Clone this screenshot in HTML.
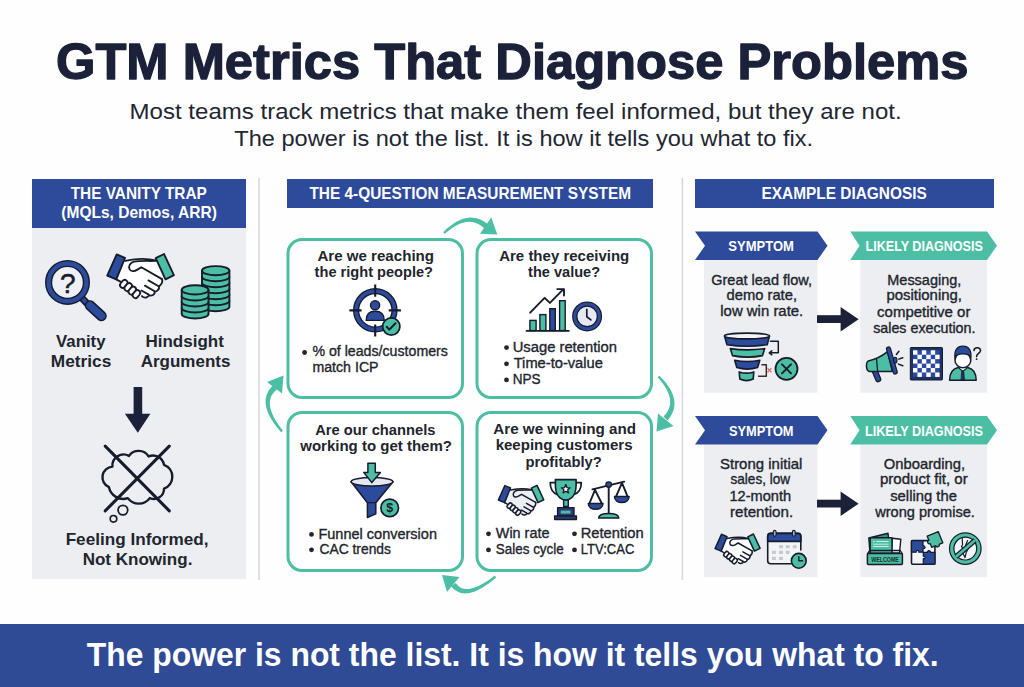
<!DOCTYPE html>
<html><head><meta charset="utf-8"><style>
html,body{margin:0;padding:0;background:#fff;}
svg{display:block;font-family:"Liberation Sans",sans-serif;}
</style></head><body>
<svg width="1024" height="687" viewBox="0 0 1024 687">
<rect width="1024" height="687" fill="#fefefe"/>
<rect x="32" y="228" width="214" height="351" fill="#eceef2" />
<rect x="32" y="179" width="214" height="49" fill="#2e4a9a" />
<rect x="258.2" y="178" width="1.6" height="402" fill="#d9d9dc" />
<rect x="681.6" y="178" width="1.6" height="402" fill="#d9d9dc" />
<rect x="287" y="179" width="366" height="29" fill="#2e4a9a" />
<rect x="695" y="179" width="299" height="29" fill="#2e4a9a" />
<rect x="288.0" y="239.5" width="174.5" height="158" rx="14" fill="#fff" stroke="#4cbea3" stroke-width="3"/>
<rect x="477.0" y="239.5" width="174.5" height="158" rx="14" fill="#fff" stroke="#4cbea3" stroke-width="3"/>
<rect x="288.0" y="412.5" width="174.5" height="158" rx="14" fill="#fff" stroke="#4cbea3" stroke-width="3"/>
<rect x="477.0" y="412.5" width="174.5" height="158" rx="14" fill="#fff" stroke="#4cbea3" stroke-width="3"/>
<rect x="704" y="260" width="113.5" height="132.7" fill="#eceef2" />
<rect x="860.3" y="260" width="126.7" height="132.7" fill="#eceef2" />
<polygon points="695,231.5 817.5,231.5 827.5,245.75 817.5,260 695,260 705,245.75" fill="#2e4a9a"/>
<polygon points="850.3,231.5 987,231.5 997,245.75 987,260 850.3,260 859.5,245.75" fill="#4cbea3"/>
<rect x="817" y="315.2" width="24.5" height="7.8" fill="#1a2139" />
<polygon points="840.6,306.9 858.6,319.2 840.6,331.5" fill="#1a2139"/>
<rect x="704" y="444.5" width="113.5" height="132.7" fill="#eceef2" />
<rect x="860.3" y="444.5" width="126.7" height="132.7" fill="#eceef2" />
<polygon points="695,416.0 817.5,416.0 827.5,430.25 817.5,444.5 695,444.5 705,430.25" fill="#2e4a9a"/>
<polygon points="850.3,416.0 987,416.0 997,430.25 987,444.5 850.3,444.5 859.5,430.25" fill="#4cbea3"/>
<rect x="817" y="499.7" width="24.5" height="7.8" fill="#1a2139" />
<polygon points="840.6,491.4 858.6,503.7 840.6,516.0" fill="#1a2139"/>
<rect x="0" y="624" width="1024" height="63" fill="#2f4b95" />
<line x1="81" y1="297" x2="88" y2="304.5" stroke="#161c2c" stroke-width="7" stroke-linecap="round"/>
<line x1="81" y1="297" x2="88" y2="304.5" stroke="#2d4b9c" stroke-width="4"/>
<line x1="90" y1="305.5" x2="101.5" y2="316" stroke="#161c2c" stroke-width="10.5" stroke-linecap="round"/>
<line x1="90" y1="305.5" x2="101.5" y2="316" stroke="#2d4b9c" stroke-width="7.5" stroke-linecap="round"/>
<circle cx="67.5" cy="282.4" r="18.9" fill="#eef0f5" stroke="#161c2c" stroke-width="7.2"/>
<circle cx="67.5" cy="282.4" r="18.9" fill="none" stroke="#2d4b9c" stroke-width="4.4"/>
<text x="67.8" y="292.8" font-size="28" text-anchor="middle" fill="#161c2c" stroke="#161c2c" stroke-width="0.5">?</text>
<path d="M202.0,300.7 L202.0,306.7 A13.7,4.6 0 0 0 229.39999999999998,306.7 L229.39999999999998,300.7 Z" fill="#4cbea3" stroke="#161c2c" stroke-width="1.9" stroke-linejoin="round"/>
<path d="M202.0,294.7 L202.0,300.7 A13.7,4.6 0 0 0 229.39999999999998,300.7 L229.39999999999998,294.7 Z" fill="#4cbea3" stroke="#161c2c" stroke-width="1.9" stroke-linejoin="round"/>
<path d="M202.0,288.7 L202.0,294.7 A13.7,4.6 0 0 0 229.39999999999998,294.7 L229.39999999999998,288.7 Z" fill="#4cbea3" stroke="#161c2c" stroke-width="1.9" stroke-linejoin="round"/>
<path d="M202.0,282.7 L202.0,288.7 A13.7,4.6 0 0 0 229.39999999999998,288.7 L229.39999999999998,282.7 Z" fill="#4cbea3" stroke="#161c2c" stroke-width="1.9" stroke-linejoin="round"/>
<path d="M202.0,276.7 L202.0,282.7 A13.7,4.6 0 0 0 229.39999999999998,282.7 L229.39999999999998,276.7 Z" fill="#4cbea3" stroke="#161c2c" stroke-width="1.9" stroke-linejoin="round"/>
<path d="M202.0,270.7 L202.0,276.7 A13.7,4.6 0 0 0 229.39999999999998,276.7 L229.39999999999998,270.7 Z" fill="#4cbea3" stroke="#161c2c" stroke-width="1.9" stroke-linejoin="round"/>
<ellipse cx="215.7" cy="270.7" rx="13.7" ry="4.6" fill="#4cbea3" stroke="#161c2c" stroke-width="1.9"/>
<path d="M181.7,307.9 L181.7,313.9 A13.4,4.6 0 0 0 208.5,313.9 L208.5,307.9 Z" fill="#4cbea3" stroke="#161c2c" stroke-width="1.9" stroke-linejoin="round"/>
<path d="M181.7,301.9 L181.7,307.9 A13.4,4.6 0 0 0 208.5,307.9 L208.5,301.9 Z" fill="#4cbea3" stroke="#161c2c" stroke-width="1.9" stroke-linejoin="round"/>
<path d="M181.7,295.9 L181.7,301.9 A13.4,4.6 0 0 0 208.5,301.9 L208.5,295.9 Z" fill="#4cbea3" stroke="#161c2c" stroke-width="1.9" stroke-linejoin="round"/>
<path d="M181.7,289.9 L181.7,295.9 A13.4,4.6 0 0 0 208.5,295.9 L208.5,289.9 Z" fill="#4cbea3" stroke="#161c2c" stroke-width="1.9" stroke-linejoin="round"/>
<ellipse cx="195.1" cy="289.9" rx="13.4" ry="4.6" fill="#4cbea3" stroke="#161c2c" stroke-width="1.9"/>
<rect x="133.6" y="387" width="8.6" height="27.5" fill="#1a2139"/>
<polygon points="124.9,413.7 150.4,413.7 137.8,432.7" fill="#1a2139"/>
<path d="M108.9,487.1 A10.7,10.7 0 0 1 112.4,466.6 A11.2,11.2 0 0 1 129,455.9 A11.8,11.8 0 0 1 148.6,456.4 A11.2,11.2 0 0 1 164,464.9 A12.6,12.6 0 0 1 164,488.6 A10.1,10.1 0 0 1 149.8,498.1 A13.7,13.7 0 0 1 127.8,498.1 A14.5,14.5 0 0 1 108.9,487.1 Z" fill="#eceef2" stroke="#161c2c" stroke-width="2.4" stroke-linejoin="round"/>
<circle cx="122.9" cy="510.1" r="4.8" fill="none" stroke="#161c2c" stroke-width="1.8"/>
<circle cx="113.5" cy="518.8" r="3.3" fill="none" stroke="#161c2c" stroke-width="1.6"/>
<path d="M105.2,446.1 L169.3,510.9 M169.3,446.1 L105.2,510.9" stroke="#161c2c" stroke-width="3" stroke-linecap="round"/>
<g transform="translate(103.4,249.1) scale(1.0)"><path d="M21.6,11.7 C30,9.5 42,9 52.3,11.4 L59.5,29 C57,36 50,43 42,47 C36,49 30,47 26,44 L16,33 L13,29 Z" fill="#fff"/><path d="M21.6,11.7 C30,10 42,8.5 52.3,11.4" fill="none" stroke="#161c2c" stroke-width="1.85" stroke-linejoin="round" stroke-linecap="round"/><path d="M58.6,30 C60,34 57,36 55.5,37.4 C56.5,40 53,43 51.2,42.5 C52,45.5 48,47.5 45.5,46 C45,48.5 41,49.5 38.5,47" fill="#fff" stroke="#161c2c" stroke-width="1.85" stroke-linejoin="round" stroke-linecap="round"/><path d="M45,31.3 L55.6,37.4 M41.5,36.5 L51.2,42.2 M38,41.4 L45,45.3" fill="none" stroke="#161c2c" stroke-width="1.85" stroke-linejoin="round" stroke-linecap="round"/><path d="M52.3,11.8 C45,12 36,11.5 30.5,12.5 C27,13.5 24.5,17 26.2,20.3 C27.8,23 31.5,22 34,20.5 L37.9,18.2 L58.6,30" fill="#fff" stroke="#161c2c" stroke-width="1.85" stroke-linejoin="round" stroke-linecap="round"/><rect x="16.099999999999998" y="31.999999999999996" width="8.6" height="5.6" rx="2.8" transform="rotate(-50 20.4 34.8)" fill="#fff" stroke="#161c2c" stroke-width="1.85" stroke-linejoin="round" stroke-linecap="round"/><rect x="20.5" y="35.2" width="8.6" height="5.6" rx="2.8" transform="rotate(-50 24.8 38.0)" fill="#fff" stroke="#161c2c" stroke-width="1.85" stroke-linejoin="round" stroke-linecap="round"/><rect x="24.599999999999998" y="38.7" width="8.6" height="5.6" rx="2.8" transform="rotate(-50 28.9 41.5)" fill="#fff" stroke="#161c2c" stroke-width="1.85" stroke-linejoin="round" stroke-linecap="round"/><rect x="28.7" y="42.2" width="8.6" height="5.6" rx="2.8" transform="rotate(-50 33.0 45.0)" fill="#fff" stroke="#161c2c" stroke-width="1.85" stroke-linejoin="round" stroke-linecap="round"/><path d="M12.9,30.3 L17,32.5" fill="none" stroke="#161c2c" stroke-width="1.85" stroke-linejoin="round" stroke-linecap="round"/><polygon points="3.8,26.5 12.9,30.3 21.6,8.7 13.3,5.3" fill="#2d4b9c" stroke="#161c2c" stroke-width="1.85" stroke-linejoin="round" stroke-linecap="round"/><polygon points="52.3,9.1 60.6,4.9 70.5,26.1 62.1,30.3" fill="#4cbea3" stroke="#161c2c" stroke-width="1.85" stroke-linejoin="round" stroke-linecap="round"/></g>
<g transform="translate(495.8,482.0) scale(0.68)"><path d="M21.6,11.7 C30,9.5 42,9 52.3,11.4 L59.5,29 C57,36 50,43 42,47 C36,49 30,47 26,44 L16,33 L13,29 Z" fill="#eceef3"/><path d="M21.6,11.7 C30,10 42,8.5 52.3,11.4" fill="none" stroke="#161c2c" stroke-width="2.21" stroke-linejoin="round" stroke-linecap="round"/><path d="M58.6,30 C60,34 57,36 55.5,37.4 C56.5,40 53,43 51.2,42.5 C52,45.5 48,47.5 45.5,46 C45,48.5 41,49.5 38.5,47" fill="#eceef3" stroke="#161c2c" stroke-width="2.21" stroke-linejoin="round" stroke-linecap="round"/><path d="M45,31.3 L55.6,37.4 M41.5,36.5 L51.2,42.2 M38,41.4 L45,45.3" fill="none" stroke="#161c2c" stroke-width="2.21" stroke-linejoin="round" stroke-linecap="round"/><path d="M52.3,11.8 C45,12 36,11.5 30.5,12.5 C27,13.5 24.5,17 26.2,20.3 C27.8,23 31.5,22 34,20.5 L37.9,18.2 L58.6,30" fill="#eceef3" stroke="#161c2c" stroke-width="2.21" stroke-linejoin="round" stroke-linecap="round"/><rect x="16.099999999999998" y="31.999999999999996" width="8.6" height="5.6" rx="2.8" transform="rotate(-50 20.4 34.8)" fill="#eceef3" stroke="#161c2c" stroke-width="2.21" stroke-linejoin="round" stroke-linecap="round"/><rect x="20.5" y="35.2" width="8.6" height="5.6" rx="2.8" transform="rotate(-50 24.8 38.0)" fill="#eceef3" stroke="#161c2c" stroke-width="2.21" stroke-linejoin="round" stroke-linecap="round"/><rect x="24.599999999999998" y="38.7" width="8.6" height="5.6" rx="2.8" transform="rotate(-50 28.9 41.5)" fill="#eceef3" stroke="#161c2c" stroke-width="2.21" stroke-linejoin="round" stroke-linecap="round"/><rect x="28.7" y="42.2" width="8.6" height="5.6" rx="2.8" transform="rotate(-50 33.0 45.0)" fill="#eceef3" stroke="#161c2c" stroke-width="2.21" stroke-linejoin="round" stroke-linecap="round"/><path d="M12.9,30.3 L17,32.5" fill="none" stroke="#161c2c" stroke-width="2.21" stroke-linejoin="round" stroke-linecap="round"/><polygon points="3.8,26.5 12.9,30.3 21.6,8.7 13.3,5.3" fill="#2d4b9c" stroke="#161c2c" stroke-width="2.21" stroke-linejoin="round" stroke-linecap="round"/><polygon points="52.3,9.1 60.6,4.9 70.5,26.1 62.1,30.3" fill="#4cbea3" stroke="#161c2c" stroke-width="2.21" stroke-linejoin="round" stroke-linecap="round"/></g>
<g transform="translate(712.5,530.7) scale(0.675)"><path d="M21.6,11.7 C30,9.5 42,9 52.3,11.4 L59.5,29 C57,36 50,43 42,47 C36,49 30,47 26,44 L16,33 L13,29 Z" fill="#fff"/><path d="M21.6,11.7 C30,10 42,8.5 52.3,11.4" fill="none" stroke="#161c2c" stroke-width="2.22" stroke-linejoin="round" stroke-linecap="round"/><path d="M58.6,30 C60,34 57,36 55.5,37.4 C56.5,40 53,43 51.2,42.5 C52,45.5 48,47.5 45.5,46 C45,48.5 41,49.5 38.5,47" fill="#fff" stroke="#161c2c" stroke-width="2.22" stroke-linejoin="round" stroke-linecap="round"/><path d="M45,31.3 L55.6,37.4 M41.5,36.5 L51.2,42.2 M38,41.4 L45,45.3" fill="none" stroke="#161c2c" stroke-width="2.22" stroke-linejoin="round" stroke-linecap="round"/><path d="M52.3,11.8 C45,12 36,11.5 30.5,12.5 C27,13.5 24.5,17 26.2,20.3 C27.8,23 31.5,22 34,20.5 L37.9,18.2 L58.6,30" fill="#fff" stroke="#161c2c" stroke-width="2.22" stroke-linejoin="round" stroke-linecap="round"/><rect x="16.099999999999998" y="31.999999999999996" width="8.6" height="5.6" rx="2.8" transform="rotate(-50 20.4 34.8)" fill="#fff" stroke="#161c2c" stroke-width="2.22" stroke-linejoin="round" stroke-linecap="round"/><rect x="20.5" y="35.2" width="8.6" height="5.6" rx="2.8" transform="rotate(-50 24.8 38.0)" fill="#fff" stroke="#161c2c" stroke-width="2.22" stroke-linejoin="round" stroke-linecap="round"/><rect x="24.599999999999998" y="38.7" width="8.6" height="5.6" rx="2.8" transform="rotate(-50 28.9 41.5)" fill="#fff" stroke="#161c2c" stroke-width="2.22" stroke-linejoin="round" stroke-linecap="round"/><rect x="28.7" y="42.2" width="8.6" height="5.6" rx="2.8" transform="rotate(-50 33.0 45.0)" fill="#fff" stroke="#161c2c" stroke-width="2.22" stroke-linejoin="round" stroke-linecap="round"/><path d="M12.9,30.3 L17,32.5" fill="none" stroke="#161c2c" stroke-width="2.22" stroke-linejoin="round" stroke-linecap="round"/><polygon points="3.8,26.5 12.9,30.3 21.6,8.7 13.3,5.3" fill="#2d4b9c" stroke="#161c2c" stroke-width="2.22" stroke-linejoin="round" stroke-linecap="round"/><polygon points="52.3,9.1 60.6,4.9 70.5,26.1 62.1,30.3" fill="#4cbea3" stroke="#161c2c" stroke-width="2.22" stroke-linejoin="round" stroke-linecap="round"/></g>
<path d="M444.82,233.87 L446.89,232.07 L448.94,230.42 L450.95,228.91 L452.93,227.55 L454.88,226.34 L456.80,225.28 L458.68,224.36 L460.53,223.59 L462.34,222.96 L464.11,222.47 L465.84,222.12 L467.53,221.91 L469.18,221.83 L470.79,221.89 L472.37,222.07 L473.91,222.38 L475.43,222.82 L476.93,223.38 L478.40,224.07 L479.86,224.89 L481.31,225.85 L482.74,226.93 L484.16,228.16 L485.56,229.52 L489.44,225.48 L487.71,224.00 L485.94,222.67 L484.15,221.49 L482.33,220.47 L480.48,219.60 L478.61,218.88 L476.71,218.33 L474.80,217.93 L472.87,217.70 L470.93,217.62 L468.98,217.70 L467.02,217.94 L465.07,218.33 L463.11,218.87 L461.15,219.56 L459.18,220.39 L457.21,221.37 L455.24,222.49 L453.25,223.74 L451.26,225.14 L449.26,226.68 L447.24,228.36 L445.22,230.17 L443.18,232.13 Z" fill="#4cbea3"/>
<polygon points="491.3,217.5 497.3,234.5 480,233.8" fill="#4cbea3"/>
<path d="M657.64,377.33 L659.45,379.37 L661.12,381.37 L662.65,383.34 L664.04,385.28 L665.28,387.18 L666.38,389.06 L667.33,390.89 L668.15,392.69 L668.82,394.45 L669.36,396.17 L669.76,397.84 L670.03,399.48 L670.16,401.07 L670.17,402.62 L670.06,404.13 L669.82,405.61 L669.46,407.06 L668.97,408.47 L668.37,409.87 L667.64,411.24 L666.79,412.60 L665.81,413.94 L664.70,415.27 L663.45,416.59 L667.55,420.41 L668.91,418.75 L670.13,417.06 L671.21,415.34 L672.13,413.59 L672.91,411.81 L673.53,410.00 L673.99,408.17 L674.29,406.32 L674.44,404.46 L674.44,402.59 L674.28,400.71 L673.97,398.82 L673.52,396.93 L672.92,395.04 L672.18,393.14 L671.30,391.24 L670.28,389.33 L669.12,387.42 L667.83,385.49 L666.41,383.56 L664.85,381.61 L663.16,379.64 L661.33,377.66 L659.36,375.67 Z" fill="#4cbea3"/>
<polygon points="658,413.5 673.5,426 656.5,431.5" fill="#4cbea3"/>
<path d="M282.92,430.73 L281.02,428.30 L279.28,425.92 L277.68,423.60 L276.23,421.34 L274.93,419.14 L273.78,417.00 L272.78,414.92 L271.93,412.90 L271.22,410.96 L270.66,409.08 L270.25,407.27 L269.98,405.54 L269.84,403.87 L269.84,402.28 L269.97,400.77 L270.23,399.32 L270.61,397.94 L271.12,396.62 L271.74,395.35 L272.49,394.13 L273.37,392.95 L274.38,391.81 L275.52,390.71 L276.80,389.64 L273.20,385.36 L271.71,386.79 L270.37,388.29 L269.19,389.85 L268.17,391.48 L267.32,393.17 L266.63,394.91 L266.12,396.69 L265.77,398.52 L265.59,400.39 L265.58,402.28 L265.72,404.21 L266.02,406.16 L266.48,408.15 L267.09,410.16 L267.84,412.20 L268.74,414.27 L269.78,416.38 L270.97,418.53 L272.30,420.71 L273.77,422.94 L275.38,425.21 L277.14,427.52 L279.04,429.87 L281.08,432.27 Z" fill="#4cbea3"/>
<polygon points="267,382 283.5,375.5 282,393.5" fill="#4cbea3"/>
<path d="M494.74,575.57 L492.23,577.49 L489.79,579.26 L487.41,580.88 L485.11,582.36 L482.89,583.68 L480.73,584.87 L478.65,585.90 L476.65,586.79 L474.73,587.53 L472.89,588.12 L471.14,588.58 L469.48,588.89 L467.90,589.06 L466.42,589.10 L465.03,589.01 L463.73,588.80 L462.52,588.47 L461.38,588.03 L460.32,587.47 L459.32,586.80 L458.37,586.02 L457.46,585.11 L456.61,584.07 L455.79,582.89 L451.21,586.11 L452.41,587.57 L453.69,588.88 L455.06,590.04 L456.52,591.03 L458.05,591.85 L459.64,592.50 L461.30,592.97 L463.00,593.27 L464.75,593.40 L466.54,593.36 L468.36,593.17 L470.22,592.81 L472.12,592.31 L474.06,591.67 L476.05,590.88 L478.08,589.95 L480.16,588.87 L482.29,587.66 L484.48,586.30 L486.72,584.81 L489.02,583.18 L491.37,581.40 L493.79,579.49 L496.26,577.43 Z" fill="#4cbea3"/>
<polygon points="459.5,577 447,592 442,575" fill="#4cbea3"/>
<circle cx="375.3" cy="310.3" r="19.2" fill="#fff" stroke="#161c2c" stroke-width="6.2"/>
<circle cx="375.3" cy="310.3" r="19.2" fill="none" stroke="#2d4b9c" stroke-width="3.6"/>
<path d="M375.2,284.6 V296.8 M375.2,324.4 V336.6 M349.4,310.4 H361.6 M388.7,310.4 H400.9" stroke="#161c2c" stroke-width="2.1"/>
<circle cx="375.1" cy="305.2" r="4.6" fill="#2d4b9c" stroke="#161c2c" stroke-linejoin="round" stroke-linecap="round" stroke-width="1.4"/>
<path d="M366.2,320.4 C366.2,314 370,311.3 375.2,311.3 C380.4,311.3 384.2,314 384.2,320.4 Z" fill="#2d4b9c" stroke="#161c2c" stroke-linejoin="round" stroke-linecap="round" stroke-width="1.4"/>
<circle cx="391.3" cy="326.5" r="8.6" fill="#4cbea3" stroke="#161c2c" stroke-linejoin="round" stroke-linecap="round" stroke-width="1.7"/>
<path d="M386.7,326.8 L389.3,329.6 L395.5,323.2" fill="none" stroke="#161c2c" stroke-linejoin="round" stroke-linecap="round" stroke-width="2"/>
<rect x="529.9000000000001" y="320.4" width="6.199999999999909" height="10.200000000000035" fill="#4cbea3" stroke="#161c2c" stroke-width="1.4"/>
<rect x="539.9000000000001" y="314.59999999999997" width="5.999999999999977" height="16.000000000000046" fill="#4cbea3" stroke="#161c2c" stroke-width="1.4"/>
<rect x="549.8000000000001" y="308.7" width="5.499999999999977" height="21.900000000000023" fill="#2d4b9c" stroke="#161c2c" stroke-width="1.4"/>
<rect x="559.6" y="300.7" width="5.6" height="29.900000000000023" fill="#4cbea3" stroke="#161c2c" stroke-width="1.4"/>
<line x1="526.5" y1="330.9" x2="568.8" y2="330.9" stroke="#161c2c" stroke-width="1.8" stroke-linecap="round"/>
<path d="M530.2,312.7 L544.6,297.9 L549.9,302.9 L563.5,289.2 M557.3,289.1 H564 V295.5" fill="none" stroke="#161c2c" stroke-linejoin="round" stroke-linecap="round" stroke-width="1.9"/>
<circle cx="587.1" cy="316.4" r="12.3" fill="#e6e8f3" stroke="#161c2c" stroke-width="5.4"/>
<circle cx="587.1" cy="316.4" r="12.3" fill="none" stroke="#2d4b9c" stroke-width="3"/>
<path d="M586.8,309.4 V316.8 L590.9,319.9" fill="none" stroke="#161c2c" stroke-linejoin="round" stroke-linecap="round" stroke-width="1.7"/>
<path d="M351.1,481.8 L367.4,502.7 L367.4,517.6 L375.8,513.9 L375.8,502.7 L393,481.8 Z" fill="#2d4b9c" stroke="#161c2c" stroke-linejoin="round" stroke-linecap="round" stroke-width="1.5"/>
<ellipse cx="372" cy="481.8" rx="20.9" ry="4.2" fill="#e4e7f1" stroke="#161c2c" stroke-width="1.5"/>
<line x1="367.4" y1="502.7" x2="375.8" y2="502.7" stroke="#161c2c" stroke-width="1.2"/>
<polygon points="367.9,463.2 375.3,463.2 375.3,472.4 380.4,472.4 371.8,482.6 363.7,472.4 367.9,472.4" fill="#4cbea3" stroke="#161c2c" stroke-linejoin="round" stroke-linecap="round" stroke-width="1.5"/>
<circle cx="389.7" cy="507.9" r="8.8" fill="#4cbea3" stroke="#161c2c" stroke-linejoin="round" stroke-linecap="round" stroke-width="1.7"/>
<text x="389.8" y="512.3" font-size="12.5" font-weight="700" text-anchor="middle" fill="#161c2c">$</text>
<path d="M555.8,482.6 H550.2 C550.2,489 553.5,493.5 558,495 M575.8,482.6 H581.3 C581.3,489 578,493.5 573.5,494.8" fill="#fff" stroke="#161c2c" stroke-linejoin="round" stroke-linecap="round" stroke-width="1.7"/>
<path d="M555.4,479.6 H576.1 V485 C576.1,494 572,499.5 565.75,500.2 C559.5,499.5 555.4,494 555.4,485 Z" fill="#4cbea3" stroke="#161c2c" stroke-linejoin="round" stroke-linecap="round" stroke-width="1.6"/>
<rect x="563.6" y="500" width="4.7" height="6.5" fill="#4cbea3" stroke="#161c2c" stroke-linejoin="round" stroke-linecap="round" stroke-width="1.4"/>
<rect x="557.6" y="507.6" width="16.4" height="8.6" fill="#2a3c78" stroke="#161c2c" stroke-linejoin="round" stroke-linecap="round" stroke-width="1.4"/>
<rect x="560.8" y="510.6" width="9.8" height="3" fill="#4cbea3"/>
<rect x="554.6" y="516" width="21.9" height="3.5" fill="#2a3c78" stroke="#161c2c" stroke-linejoin="round" stroke-linecap="round" stroke-width="1.3"/>
<polygon points="565.80,484.60 566.98,487.58 570.17,487.78 567.70,489.82 568.50,492.92 565.80,491.20 563.10,492.92 563.90,489.82 561.43,487.78 564.62,487.58" fill="#fff" stroke="#161c2c" stroke-linejoin="round" stroke-linecap="round" stroke-width="1.3"/>
<path d="M592.4,489.3 L624.2,481.6 M608.7,484.6 V513.8 M595,489.8 L589.4,503.5 M595,489.8 L601.8,503.5 M622,482.9 L616,496.6 M622,482.9 L627.6,496.6" fill="none" stroke="#161c2c" stroke-linejoin="round" stroke-linecap="round" stroke-width="1.9"/>
<circle cx="608.7" cy="484.6" r="2.8" fill="#2d4b9c" stroke="#161c2c" stroke-linejoin="round" stroke-linecap="round" stroke-width="1.3"/>
<path d="M588.3,503.5 H603 C603,507.5 599.5,509.3 595.65,509.3 C591.8,509.3 588.3,507.5 588.3,503.5 Z" fill="#2d4b9c" stroke="#161c2c" stroke-linejoin="round" stroke-linecap="round" stroke-width="1.5"/>
<path d="M614.5,496.6 H629.1 C629.1,500.6 625.6,502.6 621.8,502.6 C618,502.6 614.5,500.6 614.5,496.6 Z" fill="#2d4b9c" stroke="#161c2c" stroke-linejoin="round" stroke-linecap="round" stroke-width="1.5"/>
<path d="M598.6,518.1 C598.8,514.7 603,513.6 608.7,513.6 C614.4,513.6 618.6,514.7 618.8,518.1 Z" fill="#4cbea3" stroke="#161c2c" stroke-linejoin="round" stroke-linecap="round" stroke-width="1.5"/>
<circle cx="304.6" cy="352.5" r="2.4" fill="#22252d"/>
<circle cx="506.5" cy="347.6" r="2.4" fill="#22252d"/>
<circle cx="506.5" cy="363.8" r="2.4" fill="#22252d"/>
<circle cx="506.5" cy="379.9" r="2.4" fill="#22252d"/>
<circle cx="311.5" cy="534.4" r="2.4" fill="#22252d"/>
<circle cx="311.5" cy="549.8" r="2.4" fill="#22252d"/>
<circle cx="488.5" cy="533.8" r="2.4" fill="#22252d"/>
<circle cx="488.5" cy="549.9" r="2.4" fill="#22252d"/>
<circle cx="574.5" cy="533.8" r="2.4" fill="#22252d"/>
<circle cx="574.5" cy="549.9" r="2.4" fill="#22252d"/>
<path d="M724.6,336.4 L727,344.7 Q747.0,347.7 767.2,344.7 L769.4,336.4 Q747.0,338.9 724.6,336.4 Z" fill="#2d4b9c" stroke="#161c2c" stroke-linejoin="round" stroke-linecap="round" stroke-width="1.6"/>
<path d="M730.3,348.6 L732.5,355.6 Q747.5,358.6 762.5,355.6 L764.7,348.6 Q747.5,351.1 730.3,348.6 Z" fill="#4cbea3" stroke="#161c2c" stroke-linejoin="round" stroke-linecap="round" stroke-width="1.6"/>
<path d="M734.7,360.2 L736.8,367.6 Q747.25,370.6 757.6,367.6 L759.8,360.2 Q747.25,362.7 734.7,360.2 Z" fill="#2d4b9c" stroke="#161c2c" stroke-linejoin="round" stroke-linecap="round" stroke-width="1.6"/>
<path d="M739.2,371.9 L739.8,379.1 Q746.5,382.1 753.2,379.1 L753.8,371.9 Q746.5,374.4 739.2,371.9 Z" fill="#4cbea3" stroke="#161c2c" stroke-linejoin="round" stroke-linecap="round" stroke-width="1.6"/>
<ellipse cx="747" cy="336" rx="22.6" ry="2.9" fill="#f3f4f8" stroke="#161c2c" stroke-width="1.6"/>
<path d="M770.5,341.3 H778.3 V352.8 H769.5 M771.8,350.8 L769.3,352.8 L771.8,354.8" fill="none" stroke="#161c2c" stroke-linejoin="round" stroke-linecap="round" stroke-width="1.5"/>
<path d="M761.4,364.8 H766.3 V376.2 H758.1" fill="none" stroke="#3a2a35" stroke-width="1.5" stroke-linejoin="round"/>
<path d="M767.5,368.3 L771.5,372.3 M771.5,368.3 L767.5,372.3" stroke="#e0706f" stroke-width="1.4"/>
<circle cx="786.5" cy="368.8" r="11" fill="#4cbea3" stroke="#161c2c" stroke-linejoin="round" stroke-linecap="round" stroke-width="1.8"/>
<path d="M782,364.3 L791,373.3 M791,364.3 L782,373.3" stroke="#161c2c" stroke-linejoin="round" stroke-linecap="round" stroke-width="1.9"/>
<path d="M874.8,371 L878.2,379.2" stroke="#161c2c" stroke-width="6.2" stroke-linecap="round"/>
<path d="M874.8,371 L878.2,379.2" stroke="#2d4b9c" stroke-width="3.6" stroke-linecap="round"/>
<path d="M868.4,360.9 C866,362 865.5,370 869,371.4 L892.3,371.4 L887.6,351.6 C882,356 875,359.5 868.4,360.9 Z" fill="#4cbea3" stroke="#161c2c" stroke-linejoin="round" stroke-linecap="round" stroke-width="1.5"/>
<path d="M876.6,359.2 L877.6,371.2" stroke="#161c2c" stroke-linejoin="round" stroke-linecap="round" stroke-width="1.3"/>
<path d="M888.5,349 L895.2,372" stroke="#161c2c" stroke-width="5.2" stroke-linecap="round"/>
<path d="M888.5,349 L895.2,372" stroke="#2d4b9c" stroke-width="2.8" stroke-linecap="round"/>
<ellipse cx="895.2" cy="360.2" rx="1.8" ry="3" fill="#2d4b9c" stroke="#161c2c" stroke-linejoin="round" stroke-linecap="round" stroke-width="1.1"/>
<path d="M896.4,354.5 L898.9,351.3 M898.7,359.1 L902.8,357.7 M898.4,364.1 L902.8,365.8" stroke="#161c2c" stroke-linejoin="round" stroke-linecap="round" stroke-width="1.5"/>
<rect x="910.3" y="347.5" width="32.2" height="32.5" rx="0.8" fill="#22306a" stroke="#161c2c" stroke-width="1"/>
<rect x="913" y="350.3" width="26.6" height="26.6" fill="#2d4b9c"/>
<rect x="913.00" y="350.30" width="4.43" height="4.43" fill="#fff"/>
<rect x="921.87" y="350.30" width="4.43" height="4.43" fill="#fff"/>
<rect x="930.73" y="350.30" width="4.43" height="4.43" fill="#fff"/>
<rect x="917.43" y="354.73" width="4.43" height="4.43" fill="#fff"/>
<rect x="926.30" y="354.73" width="4.43" height="4.43" fill="#fff"/>
<rect x="935.17" y="354.73" width="4.43" height="4.43" fill="#fff"/>
<rect x="913.00" y="359.17" width="4.43" height="4.43" fill="#fff"/>
<rect x="921.87" y="359.17" width="4.43" height="4.43" fill="#fff"/>
<rect x="930.73" y="359.17" width="4.43" height="4.43" fill="#fff"/>
<rect x="917.43" y="363.60" width="4.43" height="4.43" fill="#fff"/>
<rect x="926.30" y="363.60" width="4.43" height="4.43" fill="#fff"/>
<rect x="935.17" y="363.60" width="4.43" height="4.43" fill="#fff"/>
<rect x="913.00" y="368.03" width="4.43" height="4.43" fill="#fff"/>
<rect x="921.87" y="368.03" width="4.43" height="4.43" fill="#fff"/>
<rect x="930.73" y="368.03" width="4.43" height="4.43" fill="#fff"/>
<rect x="917.43" y="372.47" width="4.43" height="4.43" fill="#fff"/>
<rect x="926.30" y="372.47" width="4.43" height="4.43" fill="#fff"/>
<rect x="935.17" y="372.47" width="4.43" height="4.43" fill="#fff"/>
<path d="M949.6,380.3 C949.6,372 952.5,368.8 958,367.5 L967.8,367.5 C973.3,368.8 976.2,372 976.2,380.3 Z" fill="#4cbea3" stroke="#161c2c" stroke-linejoin="round" stroke-linecap="round" stroke-width="1.5"/>
<path d="M958.5,367.6 L962.9,371.5 L967.3,367.6" fill="#fff" stroke="#161c2c" stroke-linejoin="round" stroke-linecap="round" stroke-width="1.2"/>
<path d="M962.1,371.5 L963.7,371.5 L964.4,380 L961.4,380 Z" fill="#1f3270" stroke="#161c2c" stroke-linejoin="round" stroke-linecap="round" stroke-width="0.9"/>
<ellipse cx="962.9" cy="360.2" rx="7.9" ry="7.6" fill="#fff" stroke="#161c2c" stroke-linejoin="round" stroke-linecap="round" stroke-width="1.5"/>
<path d="M955.1,358.8 C953.8,350 957.5,346.2 962.9,346.2 C968.3,346.2 972,350 970.7,358.8 C970,354.8 968,353.9 962.9,353.9 C957.8,353.9 955.8,354.8 955.1,358.8 Z" fill="#2d4b9c" stroke="#161c2c" stroke-linejoin="round" stroke-linecap="round" stroke-width="1.3"/>
<path d="M974,350.5 C974,347 980.5,346.5 980.5,350.5 C980.5,353.5 976.6,353.5 976.6,356.6" fill="none" stroke="#161c2c" stroke-linejoin="round" stroke-linecap="round" stroke-width="1.6"/>
<circle cx="976.6" cy="359.2" r="0.9" fill="#161c2c"/>
<path d="M800.8,550 V536.4 Q800.8,533.4 797.8,533.4 H770.7 Q767.7,533.4 767.7,536.4 V560.8 Q767.7,563.8 770.7,563.8 H791" fill="#f3f4f7" stroke="#161c2c" stroke-linejoin="round" stroke-linecap="round" stroke-width="1.6"/>
<path d="M767.7,541.4 V536.4 Q767.7,533.4 770.7,533.4 H797.8 Q800.8,533.4 800.8,536.4 V541.4 Z" fill="#2d4b9c" stroke="#161c2c" stroke-linejoin="round" stroke-linecap="round" stroke-width="1.6"/>
<rect x="773.3000000000001" y="530.4" width="2.8" height="5.8" rx="1.4" fill="#9fb4c8" stroke="#161c2c" stroke-linejoin="round" stroke-linecap="round" stroke-width="1.1"/>
<rect x="792.4" y="530.4" width="2.8" height="5.8" rx="1.4" fill="#9fb4c8" stroke="#161c2c" stroke-linejoin="round" stroke-linecap="round" stroke-width="1.1"/>
<rect x="779.1" y="545.1" width="3.8" height="3.2" fill="#c6c8ce"/>
<rect x="785.8" y="545.1" width="3.8" height="3.2" fill="#c6c8ce"/>
<rect x="792.8" y="545.1" width="3.8" height="3.2" fill="#c6c8ce"/>
<rect x="772" y="550.8" width="3.8" height="3.2" fill="#c6c8ce"/>
<rect x="779.1" y="550.8" width="3.8" height="3.2" fill="#c6c8ce"/>
<rect x="785.8" y="550.8" width="3.8" height="3.2" fill="#c6c8ce"/>
<rect x="772" y="556.8" width="3.8" height="3.2" fill="#c6c8ce"/>
<rect x="779.1" y="556.8" width="3.8" height="3.2" fill="#c6c8ce"/>
<circle cx="798.8" cy="560.8" r="7.4" fill="#4cbea3" stroke="#161c2c" stroke-linejoin="round" stroke-linecap="round" stroke-width="1.6"/>
<path d="M798.8,556.6 V560.8 H802.6" fill="none" stroke="#161c2c" stroke-linejoin="round" stroke-linecap="round" stroke-width="1.4"/>
<path d="M868.8,538 L888,533.2 L890,552 L870,553 Z" fill="#3f8f7d" stroke="#161c2c" stroke-linejoin="round" stroke-linecap="round" stroke-width="1.4"/>
<path d="M892.4,538.2 L900.8,539.2 L899.5,553 L891.5,553 Z" fill="#fff" stroke="#161c2c" stroke-linejoin="round" stroke-linecap="round" stroke-width="1.4"/>
<rect x="870.2" y="537.8" width="21.8" height="15.5" fill="#4cbea3" stroke="#161c2c" stroke-linejoin="round" stroke-linecap="round" stroke-width="1.4"/>
<path d="M873,541.5 H874.8 M876.2,541.5 H888.5 M873,544.2 H888.5 M873,546.5 H888.5" stroke="#d8f1ea" stroke-width="0.9"/>
<path d="M867.6,553.6 L869.5,550.5 H900.3 L902.2,553.6" fill="none" stroke="#161c2c" stroke-linejoin="round" stroke-linecap="round" stroke-width="1.3"/>
<rect x="867.4" y="553.6" width="35" height="10.8" rx="1" fill="#4cbea3" stroke="#161c2c" stroke-linejoin="round" stroke-linecap="round" stroke-width="1.5"/>
<text x="871.3" y="561.5" font-size="6.3" font-weight="700" textLength="27.6" lengthAdjust="spacingAndGlyphs" fill="#17302c">WELCOME</text>
<rect x="911.5" y="540.6" width="23.4" height="23.6" rx="1.2" fill="#f3f4f7" stroke="#161c2c" stroke-linejoin="round" stroke-linecap="round" stroke-width="1.6"/>
<path d="M911.5,540.6 H923 V546 C925.5,545.2 926,549 923,548.5 V552.2 H918.8 C919.5,549.8 915.5,549.8 916.2,552.2 H911.5 Z" fill="#2d4b9c" stroke="#161c2c" stroke-linejoin="round" stroke-linecap="round" stroke-width="1.2"/>
<path d="M934.9,552.4 V564.2 H923.3 V558.6 C925.5,559.6 925.8,555.5 923.3,556.3 V552.4 H927.5 C927,550 931,550 930.3,552.4 Z" fill="#2d4b9c" stroke="#161c2c" stroke-linejoin="round" stroke-linecap="round" stroke-width="1.2"/>
<g transform="rotate(-22 935 539.5)"><path d="M929,533.5 H941 V545.5 H937 C937.5,548 933,548 933.5,545.5 H929 V541.5 C926.5,542 926.5,537.5 929,538 Z" fill="#4cbea3" stroke="#161c2c" stroke-linejoin="round" stroke-linecap="round" stroke-width="1.3"/></g>
<circle cx="965.3" cy="548.6" r="13.6" fill="#f3f4f7" stroke="#161c2c" stroke-width="5.6"/>
<circle cx="965.3" cy="548.6" r="13.6" fill="none" stroke="#4cbea3" stroke-width="3.2"/>
<path d="M962.1,537.8 L962.6,544.5 L961.5,546.5 L964.5,550 L963,553.5 L965,557.5 L966.2,552.5 L968,549 L965.5,545.5 L967.6,540.5" fill="none" stroke="#161c2c" stroke-linejoin="round" stroke-linecap="round" stroke-width="1.2"/>
<path d="M956,556.7 L975,540.2" stroke="#161c2c" stroke-width="5.2"/>
<path d="M956,556.7 L975,540.2" stroke="#4cbea3" stroke-width="2.8"/>
<text transform="translate(55.95,78.50) scale(1.0241,1)" font-size="49.5" font-weight="700" fill="#1a2139" stroke="#1a2139" stroke-width="1.3" stroke-linejoin="round">GTM Metrics That Diagnose Problems</text>
<text transform="translate(129.58,119.30) scale(1.1236,1)" font-size="21.4" font-weight="400" fill="#222633">Most teams track metrics that make them feel informed, but they are not.</text>
<text transform="translate(234.30,145.70) scale(1.1015,1)" font-size="21.4" font-weight="400" fill="#222633">The power is not the list. It is how it tells you what to fix.</text>
<text transform="translate(86.70,665.80) scale(0.9665,1)" font-size="33" font-weight="700" fill="#ffffff">The power is not the list. It is how it tells you what to fix.</text>
<text transform="translate(70.70,198.90) scale(0.9320,1)" font-size="16.5" font-weight="700" fill="#ffffff">THE VANITY TRAP</text>
<text transform="translate(61.30,217.70) scale(0.9412,1)" font-size="16.5" font-weight="700" fill="#ffffff">(MQLs, Demos, ARR)</text>
<text transform="translate(309.40,199.40) scale(0.9339,1)" font-size="16.5" font-weight="700" fill="#ffffff">THE 4-QUESTION MEASUREMENT SYSTEM</text>
<text transform="translate(761.45,199.00) scale(0.9474,1)" font-size="16.3" font-weight="700" fill="#ffffff">EXAMPLE DIAGNOSIS</text>
<text transform="translate(56.00,347.20) scale(1.0065,1)" font-size="16.7" font-weight="700" fill="#22252d">Vanity</text>
<text transform="translate(50.87,367.00) scale(1.0341,1)" font-size="16.7" font-weight="700" fill="#22252d">Metrics</text>
<text transform="translate(145.48,347.20) scale(1.0186,1)" font-size="16.7" font-weight="700" fill="#22252d">Hindsight</text>
<text transform="translate(140.70,367.00) scale(1.0182,1)" font-size="16.7" font-weight="700" fill="#22252d">Arguments</text>
<text transform="translate(65.63,545.30) scale(1.0728,1)" font-size="16" font-weight="700" fill="#22252d">Feeling Informed,</text>
<text transform="translate(82.63,565.00) scale(1.0655,1)" font-size="16" font-weight="700" fill="#22252d">Not Knowing.</text>
<text transform="translate(317.40,260.80) scale(1.0418,1)" font-size="14.5" font-weight="700" fill="#22252d">Are we reaching</text>
<text transform="translate(314.60,277.40) scale(1.0072,1)" font-size="14.5" font-weight="700" fill="#22252d">the right people?</text>
<text transform="translate(312.40,356.40) scale(0.9786,1)" font-size="14.5" font-weight="400" fill="#22252d" stroke="#22252d" stroke-width="0.35">% of leads/customers</text>
<text transform="translate(312.40,372.20) scale(0.9789,1)" font-size="14.5" font-weight="400" fill="#22252d" stroke="#22252d" stroke-width="0.35">match ICP</text>
<text transform="translate(499.20,260.70) scale(1.0347,1)" font-size="14.5" font-weight="700" fill="#22252d">Are they receiving</text>
<text transform="translate(528.10,277.40) scale(1.0048,1)" font-size="14.5" font-weight="700" fill="#22252d">the value?</text>
<text transform="translate(512.68,351.80) scale(1.0197,1)" font-size="14.5" font-weight="400" fill="#22252d" stroke="#22252d" stroke-width="0.35">Usage retention</text>
<text transform="translate(513.70,368.00) scale(1.0133,1)" font-size="14.5" font-weight="400" fill="#22252d" stroke="#22252d" stroke-width="0.35">Time-to-value</text>
<text transform="translate(512.77,384.10) scale(0.9345,1)" font-size="14.5" font-weight="400" fill="#22252d" stroke="#22252d" stroke-width="0.35">NPS</text>
<text transform="translate(315.20,434.70) scale(1.0153,1)" font-size="14.5" font-weight="700" fill="#22252d">Are our channels</text>
<text transform="translate(300.24,450.70) scale(1.0355,1)" font-size="14.5" font-weight="700" fill="#22252d">working to get them?</text>
<text transform="translate(318.40,538.60) scale(1.0015,1)" font-size="14.5" font-weight="400" fill="#22252d" stroke="#22252d" stroke-width="0.35">Funnel conversion</text>
<text transform="translate(319.40,554.00) scale(0.9559,1)" font-size="14.5" font-weight="400" fill="#22252d" stroke="#22252d" stroke-width="0.35">CAC trends</text>
<text transform="translate(493.30,434.10) scale(1.0488,1)" font-size="14.5" font-weight="700" fill="#22252d">Are we winning and</text>
<text transform="translate(495.66,450.20) scale(1.0367,1)" font-size="14.5" font-weight="700" fill="#22252d">keeping customers</text>
<text transform="translate(525.60,467.20) scale(1.0179,1)" font-size="14.5" font-weight="700" fill="#22252d">profitably?</text>
<text transform="translate(495.80,538.00) scale(0.9940,1)" font-size="14.5" font-weight="400" fill="#22252d" stroke="#22252d" stroke-width="0.35">Win rate</text>
<text transform="translate(495.80,554.10) scale(0.9281,1)" font-size="14.5" font-weight="400" fill="#22252d" stroke="#22252d" stroke-width="0.35">Sales cycle</text>
<text transform="translate(580.68,538.00) scale(1.0163,1)" font-size="14.5" font-weight="400" fill="#22252d" stroke="#22252d" stroke-width="0.35">Retention</text>
<text transform="translate(580.80,554.10) scale(0.8994,1)" font-size="14.5" font-weight="400" fill="#22252d" stroke="#22252d" stroke-width="0.35">LTV:CAC</text>
<text transform="translate(728.30,251.30) scale(0.9304,1)" font-size="14" font-weight="700" fill="#ffffff">SYMPTOM</text>
<text transform="translate(865.50,251.10) scale(0.8989,1)" font-size="14" font-weight="700" fill="#ffffff">LIKELY DIAGNOSIS</text>
<text transform="translate(711.25,284.70) scale(1.0375,1)" font-size="14" font-weight="400" fill="#22252d" stroke="#22252d" stroke-width="0.35">Great lead flow,</text>
<text transform="translate(726.60,299.90) scale(1.0525,1)" font-size="14" font-weight="400" fill="#22252d" stroke="#22252d" stroke-width="0.35">demo rate,</text>
<text transform="translate(720.30,316.20) scale(1.0661,1)" font-size="14" font-weight="400" fill="#22252d" stroke="#22252d" stroke-width="0.35">low win rate.</text>
<text transform="translate(887.27,284.70) scale(1.0344,1)" font-size="14" font-weight="400" fill="#22252d" stroke="#22252d" stroke-width="0.35">Messaging,</text>
<text transform="translate(886.40,300.20) scale(1.0681,1)" font-size="14" font-weight="400" fill="#22252d" stroke="#22252d" stroke-width="0.35">positioning,</text>
<text transform="translate(877.10,316.60) scale(1.0711,1)" font-size="14" font-weight="400" fill="#22252d" stroke="#22252d" stroke-width="0.35">competitive or</text>
<text transform="translate(873.20,332.80) scale(1.0191,1)" font-size="14" font-weight="400" fill="#22252d" stroke="#22252d" stroke-width="0.35">sales execution.</text>
<text transform="translate(729.00,436.20) scale(0.9161,1)" font-size="14" font-weight="700" fill="#ffffff">SYMPTOM</text>
<text transform="translate(865.00,436.10) scale(0.9034,1)" font-size="14" font-weight="700" fill="#ffffff">LIKELY DIAGNOSIS</text>
<text transform="translate(720.00,468.75) scale(1.0698,1)" font-size="14" font-weight="400" fill="#22252d" stroke="#22252d" stroke-width="0.35">Strong initial</text>
<text transform="translate(730.50,484.30) scale(0.9702,1)" font-size="14" font-weight="400" fill="#22252d" stroke="#22252d" stroke-width="0.35">sales, low</text>
<text transform="translate(729.46,500.90) scale(1.0426,1)" font-size="14" font-weight="400" fill="#22252d" stroke="#22252d" stroke-width="0.35">12-month</text>
<text transform="translate(730.00,516.90) scale(1.0821,1)" font-size="14" font-weight="400" fill="#22252d" stroke="#22252d" stroke-width="0.35">retention.</text>
<text transform="translate(883.80,468.80) scale(1.0569,1)" font-size="14" font-weight="400" fill="#22252d" stroke="#22252d" stroke-width="0.35">Onboarding,</text>
<text transform="translate(879.90,484.30) scale(1.0763,1)" font-size="14" font-weight="400" fill="#22252d" stroke="#22252d" stroke-width="0.35">product fit, or</text>
<text transform="translate(890.20,501.10) scale(1.0592,1)" font-size="14" font-weight="400" fill="#22252d" stroke="#22252d" stroke-width="0.35">selling the</text>
<text transform="translate(875.14,517.20) scale(1.0427,1)" font-size="14" font-weight="400" fill="#22252d" stroke="#22252d" stroke-width="0.35">wrong promise.</text>
</svg>
</body></html>
